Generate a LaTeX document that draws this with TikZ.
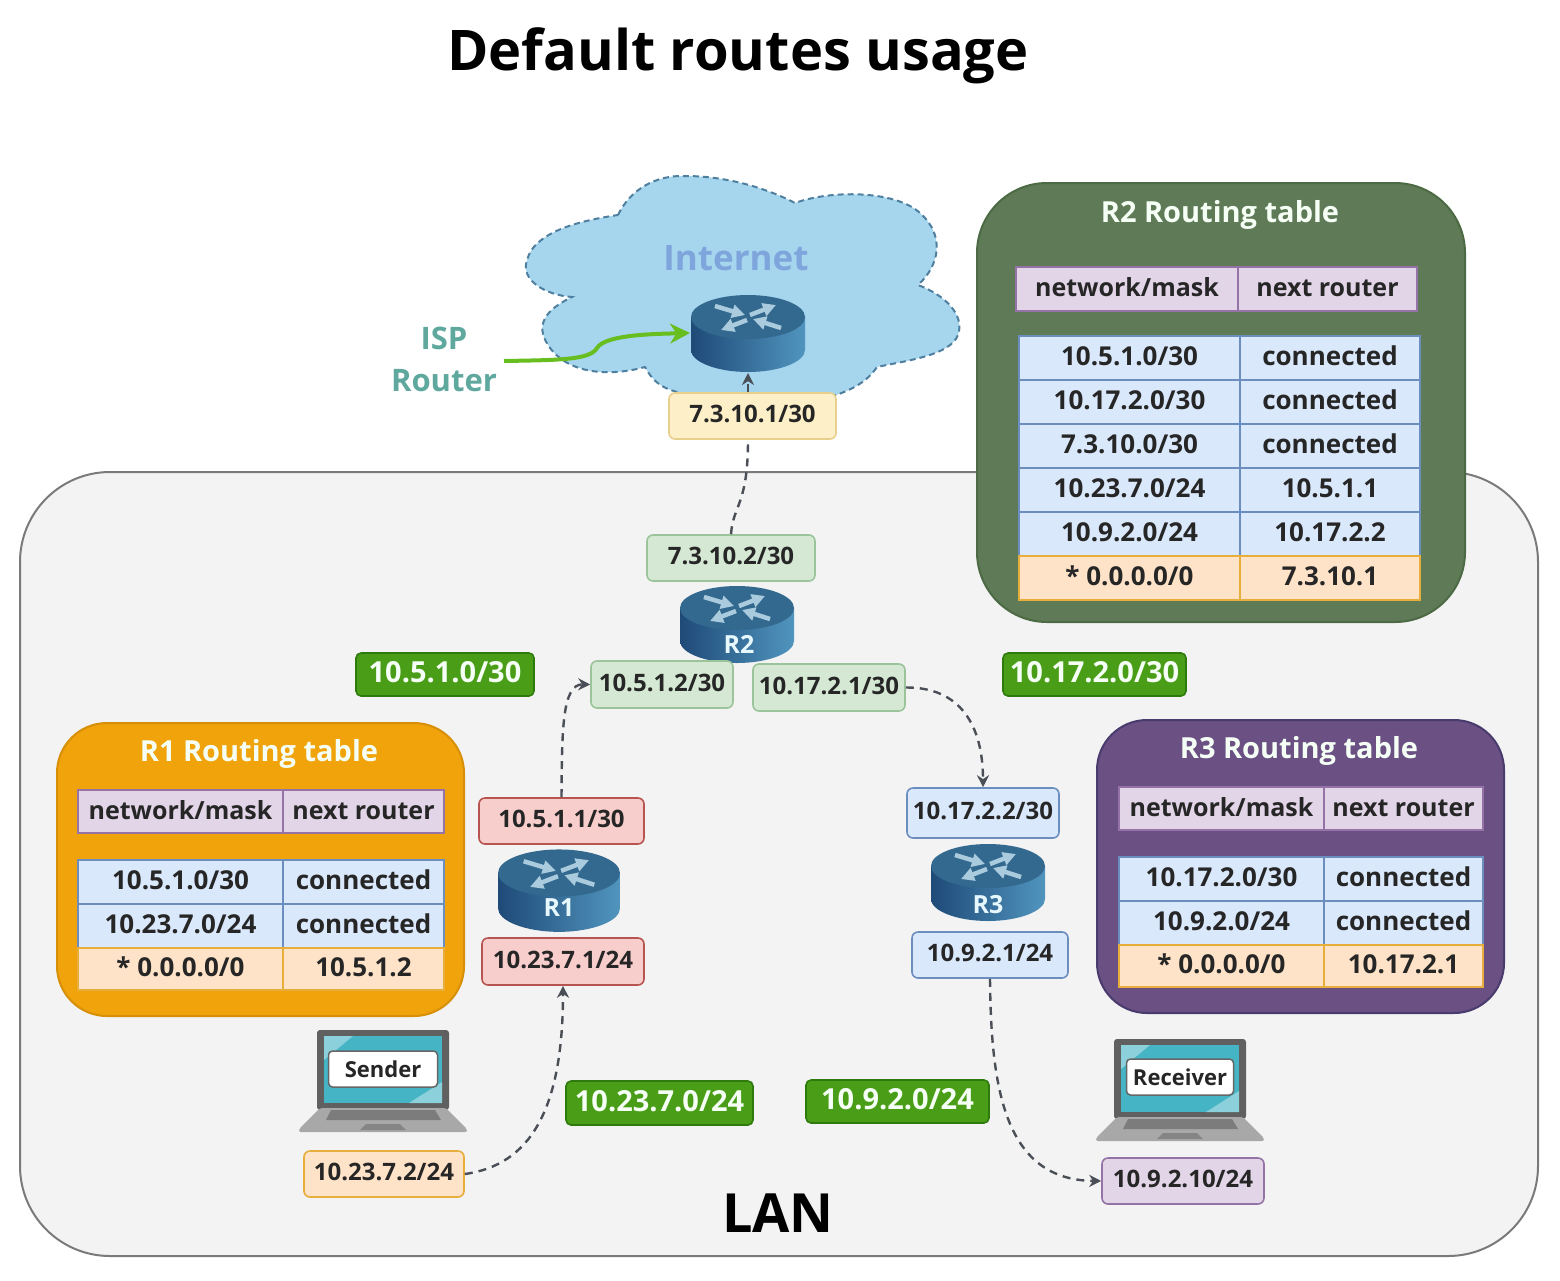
\documentclass[tikz,border=0pt]{standalone}
\usepackage{xcolor}
\usepackage{fontspec}
\setmainfont{Open Sans}
\usetikzlibrary{calc}
\usetikzlibrary{arrows.meta}
\usetikzlibrary{positioning}

\definecolor{lanfill}{HTML}{F3F3F3}
\definecolor{lanline}{HTML}{7A7A7A}
\definecolor{cloudfill}{HTML}{A6D5EE}
\definecolor{cloudline}{HTML}{4F7F9F}
\definecolor{inetblue}{HTML}{7FA6DC}
\definecolor{ispteal}{HTML}{5FA89E}
\definecolor{ispgreen}{HTML}{68BE1E}
\definecolor{linkgray}{HTML}{4A4F57}
\definecolor{nettag}{HTML}{4A9E17}
\definecolor{nettagline}{HTML}{2F7A0C}
\definecolor{yellowfill}{HTML}{FDF0C8}
\definecolor{yellowline}{HTML}{E8CF8C}
\definecolor{greenfill}{HTML}{D5E8D4}
\definecolor{greenline}{HTML}{9CC49A}
\definecolor{redfill}{HTML}{F8CECC}
\definecolor{redline}{HTML}{B85450}
\definecolor{bluefill}{HTML}{DAE8FC}
\definecolor{blueline}{HTML}{6C8EBF}
\definecolor{orangefill}{HTML}{FFE3C8}
\definecolor{orangeline}{HTML}{E8AE3C}
\definecolor{purplefill}{HTML}{E1D5E7}
\definecolor{purpleline}{HTML}{9673A6}
\definecolor{panelgreen}{HTML}{5F7A57}
\definecolor{panelgreenline}{HTML}{4C6A44}
\definecolor{panelorange}{HTML}{F0A30A}
\definecolor{panelorangeline}{HTML}{D68F06}
\definecolor{panelpurple}{HTML}{6A5083}
\definecolor{panelpurpleline}{HTML}{4A3B6E}
\definecolor{routertop}{HTML}{33698F}
\definecolor{routerleft}{HTML}{1F4A78}
\definecolor{routermid}{HTML}{2C6592}
\definecolor{routerright}{HTML}{5095BE}
\definecolor{routerarrow}{HTML}{A9CBDD}
\definecolor{bezelgray}{HTML}{606060}
\definecolor{screenblue}{HTML}{45B5C5}
\definecolor{screenlight}{HTML}{8BD0DA}
\definecolor{deckgray}{HTML}{A8A8A8}
\definecolor{keygray}{HTML}{7C7C7C}

\tikzset{
  addr/.style={draw,rounded corners=6pt,line width=1.6pt,inner sep=0pt,text=black!85,
    text height=21pt,text depth=8pt,font=\bfseries\fontsize{24}{28}\selectfont},
  nettagbox/.style={draw=nettagline,fill=nettag,rounded corners=5pt,line width=1.6pt,
    inner sep=0pt,text=white!96!green,text height=24pt,text depth=8pt,
    font=\bfseries\fontsize{29}{33}\selectfont},
  panel/.style={line width=2pt,rounded corners=#1},
  paneltitle/.style={text=white!96!green,font=\bfseries\fontsize{29}{33}\selectfont},
  cell/.style={line width=2pt,inner sep=0pt,text=black!85,text height=22pt,text depth=7pt,
    font=\bfseries\fontsize{26}{30}\selectfont},
  headcell/.style={cell,draw=purpleline,fill=purplefill,
    font=\bfseries\fontsize{25}{30}\selectfont},
  rowcell/.style={cell,draw=blueline,fill=bluefill},
  lastcell/.style={cell,draw=orangeline,fill=orangefill},
  link/.style={draw=linkgray,line width=2.4pt,dash pattern=on 8pt off 6pt,
    -{Stealth[length=12pt,width=12pt,color=linkgray]}},
  pics/router/.style={code={
    \shade[left color=routerleft,middle color=routermid,right color=routerright]
      (-57,0) -- (-57,33) .. controls (-57,45) and (-31,55) .. (0,55)
      .. controls (31,55) and (57,45) .. (57,33) -- (57,0) -- cycle;
    \fill[routertop] (0,0) ellipse (57pt and 22pt);
    \foreach \tx/\ty/\hx/\hy in {-33/-11/-3/-2, 2/-2/28/-12, -1/3/-27/13, 33/11/5/2}
      \draw[line width=4.5pt,routerarrow,
          -{Triangle[width=13pt,length=13pt,color=routerarrow]}]
        (\tx,\ty) -- (\hx,\hy);
  }},
  pics/laptop/.style={code={
    \fill[bezelgray,rounded corners=3pt] (-66,0) rectangle (66,80);
    \fill[screenblue] (-59,6) rectangle (59,73);
    \fill[screenlight] (-59,6) -- (-30,6) -- (-59,30) -- cycle;
    \fill[screenlight] (59,73) -- (59,52) -- (26,73) -- cycle;
    \fill[deckgray,rounded corners=2pt] (-63,78) -- (63,78) -- (84,99) -- (84,102)
      -- (-84,102) -- (-84,99) -- cycle;
    \fill[keygray] (-52,80) -- (52,80) -- (58,90) -- (-57,90) -- cycle;
    \fill[keygray!80!deckgray] (-17,94) -- (17,94) -- (23,100) -- (-23,100) -- cycle;
  }},
}

\begin{document}
\begin{tikzpicture}[x=1pt,y=-1pt]
    \useasboundingbox (0,0) rectangle (1560,1280);

    % TITLE
    \node (titleText) at (738,56) {\fontsize{56}{62}\selectfont\bfseries Default routes usage};

    % LAN
    \draw[fill=lanfill,draw=lanline,line width=2pt,rounded corners=90pt]
        (20,472) rectangle (1538,1256);
    \node (lanText) at (778,1213) {\fontsize{54}{60}\selectfont\bfseries LAN};

    % CLOUD
    \draw[fill=cloudfill,draw=cloudline,line width=2pt,dash pattern=on 6pt off 4pt]
        (618,215) .. controls (630,190) and (655,175) .. (685,176)
        .. controls (730,176) and (770,190) .. (795,203)
        .. controls (830,190) and (895,190) .. (920,213)
        .. controls (945,235) and (940,265) .. (918,285)
        .. controls (945,295) and (965,315) .. (958,335)
        .. controls (950,355) and (910,360) .. (877,367)
        .. controls (865,385) and (845,393) .. (820,400)
        -- (690,395)
        .. controls (665,390) and (655,385) .. (645,367)
        .. controls (605,378) and (565,372) .. (548,345)
        .. controls (535,325) and (545,310) .. (572,297)
        .. controls (545,295) and (520,280) .. (527,260)
        .. controls (535,230) and (585,220) .. (618,215) -- cycle;
    \node[text=inetblue] (inetText) at (736,258) {\bfseries\fontsize{35}{40}\selectfont Internet};
    \node[text=ispteal,align=center,font=\bfseries\fontsize{31}{42}\selectfont]
        (ispText) at (444,359) {ISP\\Router};

    % ROUTERS
    \coordinate (ispRouter) at (748,317);
    \coordinate (ispBottom) at (748,373);
    \pic at (ispRouter) {router};
    \coordinate (routerTwo) at (737,608);
    \pic at (routerTwo) {router};
    \node[text=white!90!cyan] (routerTwoText) at (739,644) {\bfseries\fontsize{25}{28}\selectfont R2};
    \coordinate (routerOne) at (559,873);
    \pic[scale=1.07] at (routerOne) {router};
    \node[text=white!90!cyan] (routerOneText) at (559,908) {\bfseries\fontsize{25}{28}\selectfont R1};
    \coordinate (routerThree) at (988,866);
    \pic at (routerThree) {router};
    \node[text=white!90!cyan] (routerThreeText) at (988,905) {\bfseries\fontsize{25}{28}\selectfont R3};

    % ADDRESSES
    \node[addr,draw=yellowline,fill=yellowfill,minimum width=167pt,minimum height=46pt]
        (ispAddr) at (752.5,416) {7.3.10.1/30};
    \node[addr,draw=greenline,fill=greenfill,minimum width=168pt,minimum height=46pt]
        (twoUp) at (731,558) {7.3.10.2/30};
    \node[addr,draw=greenline,fill=greenfill,minimum width=142pt,minimum height=47pt]
        (twoLeft) at (662,684.5) {10.5.1.2/30};
    \node[addr,draw=greenline,fill=greenfill,minimum width=152pt,minimum height=47pt]
        (twoRight) at (829,687.5) {10.17.2.1/30};
    \node[addr,draw=redline,fill=redfill,minimum width=165pt,minimum height=46pt]
        (oneUp) at (561.5,821) {10.5.1.1/30};
    \node[addr,draw=redline,fill=redfill,minimum width=162pt,minimum height=47pt]
        (oneDown) at (563,961.5) {10.23.7.1/24};
    \node[addr,draw=blueline,fill=bluefill,minimum width=152pt,minimum height=50pt]
        (threeUp) at (983,813) {10.17.2.2/30};
    \node[addr,draw=blueline,fill=bluefill,minimum width=156pt,minimum height=46pt]
        (threeDown) at (990,955) {10.9.2.1/24};
    \node[addr,draw=orangeline,fill=orangefill,minimum width=160pt,minimum height=46pt]
        (senderAddr) at (384,1174) {10.23.7.2/24};
    \node[addr,draw=purpleline,fill=purplefill,minimum width=162pt,minimum height=46pt]
        (receiverAddr) at (1183,1181) {10.9.2.10/24};

    % NETWORK TAGS
    \node[nettagbox,minimum width=178pt,minimum height=43pt] (netA) at (445,674.5) {10.5.1.0/30};
    \node[nettagbox,minimum width=183pt,minimum height=43pt] (netB) at (1094.5,674.5) {10.17.2.0/30};
    \node[nettagbox,minimum width=187pt,minimum height=44pt] (netC) at (659.5,1103) {10.23.7.0/24};
    \node[nettagbox,minimum width=183pt,minimum height=43pt] (netD) at (897.5,1101.5) {10.9.2.0/24};

    % CONNECTORS
    \coordinate (ispStart) at (504,361);
    \coordinate (ispEnd) at (690,333);
    \draw[ispgreen,line width=4pt,-{Stealth[length=20pt,width=20pt,color=ispgreen]}]
        (ispStart) .. controls (560,360) and (590,360) .. (597,348)
        .. controls (605,335) and (650,334) .. (ispEnd);
    \draw[link] (ispAddr.north -| ispBottom) -- (ispBottom);
    \draw[draw=linkgray,line width=2.4pt,dash pattern=on 8pt off 6pt]
        (twoUp.north) .. controls (733,505) and (748,505) .. (ispAddr.south -| ispBottom);
    \draw[link] (oneUp.north) .. controls (562,730) and (562,684) .. (twoLeft.west);
    \draw[link] (twoRight.east) .. controls (960,687) and (983,725) .. (threeUp.north);
    \draw[link] (senderAddr.east) .. controls (530,1165) and (563,1110) .. (oneDown.south);
    \draw[link] (threeDown.south) .. controls (991,1090) and (1005,1180) .. (receiverAddr.west);

    % LAPTOPS
    \coordinate (senderPc) at (383,1030);
    \pic at (senderPc) {laptop};
    \node[draw=black!60,fill=white,rounded corners=4pt,line width=1.5pt,inner sep=0pt,
        minimum width=109pt,minimum height=36pt,text=black!85] (senderText) at (383,1069)
        {\bfseries\fontsize{22}{26}\selectfont Sender};
    \coordinate (receiverPc) at (1180,1039);
    \pic at (receiverPc) {laptop};
    \node[draw=black!60,fill=white,rounded corners=4pt,line width=1.5pt,inner sep=0pt,
        minimum width=107pt,minimum height=36pt,text=black!85] (receiverText) at (1180,1077)
        {\bfseries\fontsize{22}{26}\selectfont Receiver};

    % R2 TABLE
    \draw[panel=70pt,fill=panelgreen,draw=panelgreenline] (977,183) rectangle (1465,622);
    \node[paneltitle] (twoTitle) at (1220,215) {R2 Routing table};
    \node[headcell,minimum width=222pt,minimum height=44pt] (twoHeadA) at (1127,289) {network/mask};
    \node[headcell,minimum width=179pt,minimum height=44pt] (twoHeadB) at (1327.5,289) {next router};
    \foreach \cy/\cid/\netw/\hop in {358/a/{10.5.1.0/30}/connected,
                                     402/b/{10.17.2.0/30}/connected,
                                     446/c/{7.3.10.0/30}/connected,
                                     490/d/{10.23.7.0/24}/10.5.1.1,
                                     534/e/{10.9.2.0/24}/10.17.2.2}{
        \node[rowcell,minimum width=221pt,minimum height=44pt] (twoNet\cid) at (1129.5,\cy) {\netw};
        \node[rowcell,minimum width=180pt,minimum height=44pt] (twoHop\cid) at (1330,\cy) {\hop};
    }
    \node[lastcell,minimum width=221pt,minimum height=44pt] (twoNetf) at (1129.5,578) {* 0.0.0.0/0};
    \node[lastcell,minimum width=180pt,minimum height=44pt] (twoHopf) at (1330,578) {7.3.10.1};

    % R1 TABLE
    \draw[panel=50pt,fill=panelorange,draw=panelorangeline] (57,723) rectangle (464,1016);
    \node[paneltitle] (oneTitle) at (259,754) {R1 Routing table};
    \node[headcell,minimum width=205pt,minimum height=43pt] (oneHeadA) at (180.5,811.5) {network/mask};
    \node[headcell,minimum width=161pt,minimum height=43pt] (oneHeadB) at (363.5,811.5) {next router};
    \foreach \cy/\cid/\netw/\hop in {882/a/{10.5.1.0/30}/connected,
                                     926/b/{10.23.7.0/24}/connected}{
        \node[rowcell,minimum width=205pt,minimum height=44pt] (oneNet\cid) at (180.5,\cy) {\netw};
        \node[rowcell,minimum width=161pt,minimum height=44pt] (oneHop\cid) at (363.5,\cy) {\hop};
    }
    \node[lastcell,minimum width=205pt,minimum height=42pt] (oneNetc) at (180.5,969) {* 0.0.0.0/0};
    \node[lastcell,minimum width=161pt,minimum height=42pt] (oneHopc) at (363.5,969) {10.5.1.2};

    % R3 TABLE
    \draw[panel=50pt,fill=panelpurple,draw=panelpurpleline] (1097,720) rectangle (1504,1013);
    \node[paneltitle] (threeTitle) at (1299,751) {R3 Routing table};
    \node[headcell,minimum width=205pt,minimum height=43pt] (threeHeadA) at (1221.5,808.5) {network/mask};
    \node[headcell,minimum width=159pt,minimum height=43pt] (threeHeadB) at (1403.5,808.5) {next router};
    \foreach \cy/\cid/\netw/\hop in {879/a/{10.17.2.0/30}/connected,
                                     923/b/{10.9.2.0/24}/connected}{
        \node[rowcell,minimum width=205pt,minimum height=44pt] (threeNet\cid) at (1221.5,\cy) {\netw};
        \node[rowcell,minimum width=159pt,minimum height=44pt] (threeHop\cid) at (1403.5,\cy) {\hop};
    }
    \node[lastcell,minimum width=205pt,minimum height=42pt] (threeNetc) at (1221.5,966) {* 0.0.0.0/0};
    \node[lastcell,minimum width=159pt,minimum height=42pt] (threeHopc) at (1403.5,966) {10.17.2.1};
\end{tikzpicture}
\end{document}
